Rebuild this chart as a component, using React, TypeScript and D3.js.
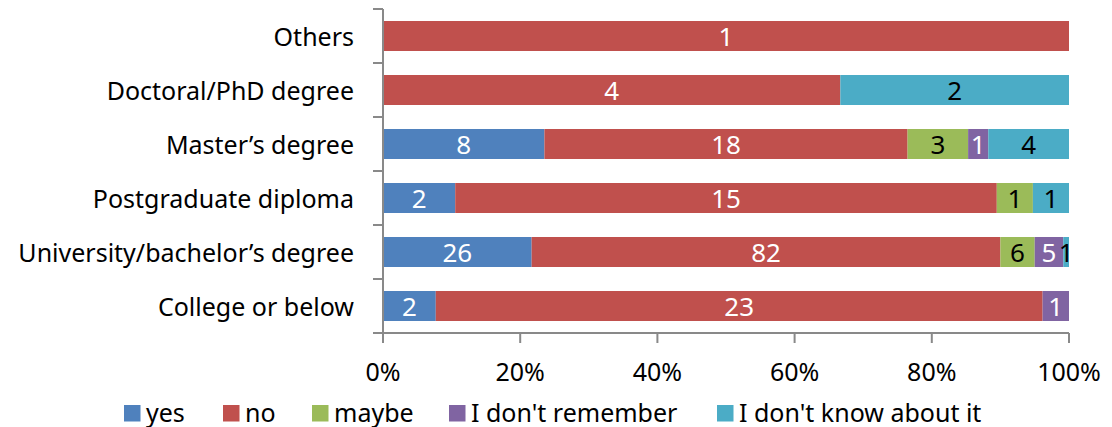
import React from "react";
import * as d3 from "d3";

const categories = [
  "Others",
  "Doctoral/PhD degree",
  "Master’s degree",
  "Postgraduate diploma",
  "University/bachelor’s degree",
  "College or below",
];
const seriesNames = ["yes", "no", "maybe", "I don't remember", "I don't know about it"];
const yes = [0, 0, 8, 2, 26, 2];
const no = [1, 4, 18, 15, 82, 23];
const maybe = [0, 0, 3, 1, 6, 0];
const dontRemember = [0, 0, 1, 0, 5, 1];
const dontKnow = [0, 2, 4, 1, 1, 0];
const xTicks = [0, 0.2, 0.4, 0.6, 0.8, 1];

const colors = ["#4F81BD", "#C0504D", "#9BBB59", "#8064A2", "#4BACC6"];
const labelColors = ["#fff", "#fff", "#000", "#fff", "#000"];
const FONT = "Noto Sans, sans-serif";
const FS = 25;

export default function App() {
  const W = 1112, H = 427;
  const left = 383, right = 1069, top = 9, bottom = 333;
  const series = [yes, no, maybe, dontRemember, dontKnow];
  const x = d3.scaleLinear().domain([0, 1]).range([left, right]);
  const y = d3.scaleBand().domain(categories).range([top, bottom]).paddingInner(24 / 54).paddingOuter(12 / 54);

  const rows = categories.map((c, i) => {
    const vals = series.map((s) => s[i]);
    const total = d3.sum(vals);
    let acc = 0;
    return vals.map((v, k) => {
      const x0 = acc / total;
      acc += v;
      return { c, k, v, x0, x1: acc / total };
    });
  });

  const legendX = [124, 223, 312, 449, 717];

  return (
    <svg width={W} height={H} style={{ position: "absolute", left: 0, top: 0 }}>
      <rect width={W} height={H} fill="#fff" />
      {rows.map((r) =>
        r.filter((s) => s.v > 0).map((s) => (
          <rect key={s.c + s.k} x={x(s.x0)} y={y(s.c)!} width={x(s.x1) - x(s.x0)} height={y.bandwidth()} fill={colors[s.k]} />
        ))
      )}
      {rows.map((r) =>
        r.filter((s) => s.v > 0).map((s) => (
          <text key={"t" + s.c + s.k} x={(x(s.x0) + x(s.x1)) / 2} y={y(s.c)! + y.bandwidth() / 2 + 10}
            textAnchor="middle" fontFamily={FONT} fontSize={26} fill={labelColors[s.k]}>{s.v}</text>
        ))
      )}
      <line x1={left} x2={left} y1={top} y2={bottom} stroke="#898989" strokeWidth={2} />
      {d3.range(categories.length + 1).map((i) => {
        const yy = top + (i * (bottom - top)) / categories.length;
        return <line key={"yt" + i} x1={left - 10} x2={left} y1={yy} y2={yy} stroke="#898989" strokeWidth={2} />;
      })}
      <line x1={left} x2={right} y1={bottom} y2={bottom} stroke="#898989" strokeWidth={2} />
      {xTicks.map((t) => (
        <g key={"xt" + t}>
          <line x1={x(t)} x2={x(t)} y1={bottom} y2={bottom + 10} stroke="#898989" strokeWidth={2} />
          <text x={x(t)} y={381} textAnchor="middle" fontFamily={FONT} fontSize={FS} fill="#000">{d3.format(".0%")(t)}</text>
        </g>
      ))}
      {categories.map((c) => (
        <text key={"c" + c} x={354} y={y(c)! + y.bandwidth() / 2 + 9.5} textAnchor="end" fontFamily={FONT} fontSize={FS} fill="#000">{c}</text>
      ))}
      {seriesNames.map((n, k) => (
        <g key={"l" + n}>
          <rect x={legendX[k]} y={405} width={16.5} height={16.5} fill={colors[k]} />
          <text x={legendX[k] + 22} y={421.5} fontFamily={FONT} fontSize={FS} fill="#000">{n}</text>
        </g>
      ))}
    </svg>
  );
}
